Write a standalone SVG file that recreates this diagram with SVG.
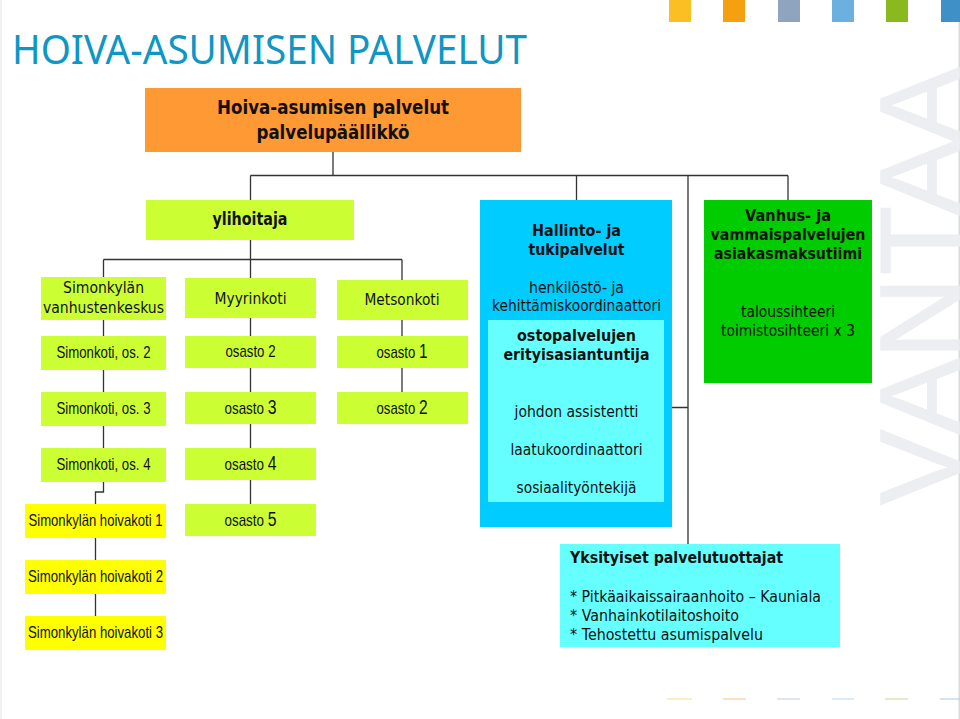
<svg xmlns="http://www.w3.org/2000/svg" width="960" height="719" viewBox="0 0 960 719">
<style>
.n{font-family:"Liberation Sans",Arial,sans-serif;font-size:17px;fill:#111;text-anchor:middle}
.o{font-family:"Liberation Sans",Arial,sans-serif;font-size:17px;fill:#111;text-anchor:middle}
.o tspan{font-size:20px}
.t{font-family:"DejaVu Sans",Verdana,sans-serif;font-size:15px;fill:#111;text-anchor:middle}
.b{font-family:"DejaVu Sans",Verdana,sans-serif;font-size:15px;font-weight:bold;fill:#111;text-anchor:middle}
.s{font-family:"DejaVu Sans",Verdana,sans-serif;font-size:16px;fill:#111}
.l{fill:#ccff33}.y{fill:#ffff00}
.c{fill:none;stroke:#333;stroke-width:1.3}
</style>
<rect width="960" height="719" fill="#fff"/>
<g id="background">
<rect x="0" y="0" width="2" height="719" fill="#f1f1f1"/>
<rect x="958.5" y="0" width="1.5" height="719" fill="#d8dade"/>
<rect x="669" y="0" width="22" height="22" fill="#fbbf24"/>
<rect x="723" y="0" width="22" height="22" fill="#f5a00f"/>
<rect x="778" y="0" width="22" height="22" fill="#8fa5bf"/>
<rect x="832" y="0" width="22" height="22" fill="#6cb0e0"/>
<rect x="886" y="0" width="22" height="22" fill="#8ab91e"/>
<rect x="941" y="0" width="19" height="22" fill="#4090c8"/>
<rect x="667" y="698.5" width="25" height="1" fill="#fbdc8a"/>
<rect x="723" y="698.5" width="23" height="1" fill="#f5c880"/>
<rect x="777" y="698.5" width="23" height="1" fill="#c3cedb"/>
<rect x="832" y="698.5" width="22" height="1" fill="#bcd8ec"/>
<rect x="885" y="698.5" width="23" height="1" fill="#c8d89a"/>
<rect x="940" y="698.5" width="20" height="1" fill="#a8c8e2"/>
<text transform="translate(959 505) rotate(-90)" x="0 71 146 230 290 362" y="0" font-family="Liberation Sans, Arial, sans-serif" font-size="113" fill="#eceef1" stroke="#eceef1" stroke-width="1.5">VANTAA</text>
<text x="12" y="64" font-family="Noto Sans, Liberation Sans, sans-serif" font-size="40" fill="#0e96c4" textLength="515" lengthAdjust="spacingAndGlyphs">HOIVA-ASUMISEN PALVELUT</text>
</g>
<g id="connectors">
<path class="c" d="M250.5 175.5H788M333 152V175.5M250.5 175.5V200M576.5 175.5V200M688 175.5V544M788 175.5V200M664 407.5H688"/>
<path class="c" d="M250.5 240V504M103.5 259.5H402M103.5 259.5V448M402 259.5V392M103.5 482V492H95.5V616"/>
</g>
<g id="n-paallikko"><rect x="145" y="88" width="376" height="64" fill="#ff9933"/>
<text class="b" x="333" y="114" style="font-size:19px" textLength="232" lengthAdjust="spacingAndGlyphs">Hoiva-asumisen palvelut</text>
<text class="b" x="333" y="139" style="font-size:19px" textLength="153" lengthAdjust="spacingAndGlyphs">palvelupäällikkö</text></g>
<g id="n-ylihoitaja"><rect class="l" x="146" y="200" width="208" height="40"/><text class="b" x="250" y="225" style="font-size:17px" textLength="75" lengthAdjust="spacingAndGlyphs">ylihoitaja</text></g>
<g id="n-vanhustenkeskus"><rect class="l" x="41" y="277" width="125" height="43"/><text class="t" x="103.5" y="293" style="font-size:16px" textLength="81" lengthAdjust="spacingAndGlyphs">Simonkylän</text><text class="t" x="103.5" y="313" style="font-size:16px" textLength="121" lengthAdjust="spacingAndGlyphs">vanhustenkeskus</text></g>
<g id="n-myyrinkoti"><rect class="l" x="185" y="278" width="131" height="40"/><text class="t" x="250.5" y="304" style="font-size:16px" textLength="72" lengthAdjust="spacingAndGlyphs">Myyrinkoti</text></g>
<g id="n-metsonkoti"><rect class="l" x="337" y="280" width="131" height="40"/><text class="t" x="402" y="305" style="font-size:16px" textLength="75" lengthAdjust="spacingAndGlyphs">Metsonkoti</text></g>
<g id="n-simonkoti2"><rect class="l" x="41" y="336" width="125" height="34"/><text class="n" x="103.5" y="358" textLength="94" lengthAdjust="spacingAndGlyphs">Simonkoti, os. 2</text></g>
<g id="n-myy-osasto2"><rect class="l" x="185" y="336" width="131" height="32"/><text class="o" x="250.5" y="357" textLength="50" lengthAdjust="spacingAndGlyphs">osasto 2</text></g>
<g id="n-met-osasto1"><rect class="l" x="337" y="336" width="131" height="32"/><text class="o" x="402" y="358" textLength="51" lengthAdjust="spacingAndGlyphs">osasto <tspan>1</tspan></text></g>
<g id="n-simonkoti3"><rect class="l" x="41" y="392" width="125" height="34"/><text class="n" x="103.5" y="414" textLength="94" lengthAdjust="spacingAndGlyphs">Simonkoti, os. 3</text></g>
<g id="n-myy-osasto3"><rect class="l" x="185" y="392" width="131" height="32"/><text class="o" x="250.5" y="414" textLength="52" lengthAdjust="spacingAndGlyphs">osasto <tspan>3</tspan></text></g>
<g id="n-met-osasto2"><rect class="l" x="337" y="392" width="131" height="32"/><text class="o" x="402" y="414" textLength="51" lengthAdjust="spacingAndGlyphs">osasto <tspan>2</tspan></text></g>
<g id="n-simonkoti4"><rect class="l" x="41" y="448" width="125" height="34"/><text class="n" x="103.5" y="470" textLength="94" lengthAdjust="spacingAndGlyphs">Simonkoti, os. 4</text></g>
<g id="n-myy-osasto4"><rect class="l" x="185" y="448" width="131" height="32"/><text class="o" x="250.5" y="470" textLength="52" lengthAdjust="spacingAndGlyphs">osasto <tspan>4</tspan></text></g>
<g id="n-myy-osasto5"><rect class="l" x="185" y="504" width="131" height="32"/><text class="o" x="250.5" y="526" textLength="52" lengthAdjust="spacingAndGlyphs">osasto <tspan>5</tspan></text></g>
<g id="n-hoivakoti1"><rect class="y" x="25" y="504" width="141" height="34"/><text class="n" x="95.5" y="526" textLength="134" lengthAdjust="spacingAndGlyphs">Simonkylän hoivakoti 1</text></g>
<g id="n-hoivakoti2"><rect class="y" x="25" y="560" width="141" height="34"/><text class="n" x="95.5" y="582" textLength="135" lengthAdjust="spacingAndGlyphs">Simonkylän hoivakoti 2</text></g>
<g id="n-hoivakoti3"><rect class="y" x="25" y="616" width="141" height="34"/><text class="n" x="95.5" y="638" textLength="135" lengthAdjust="spacingAndGlyphs">Simonkylän hoivakoti 3</text></g>
<g id="n-hallinto"><rect x="480" y="200" width="192" height="327" fill="#00ccff"/>
<rect x="488" y="320" width="176" height="182" fill="#66ffff"/>
<text class="b" x="576.5" y="236" textLength="89" lengthAdjust="spacingAndGlyphs">Hallinto- ja</text>
<text class="b" x="576.5" y="255" textLength="96" lengthAdjust="spacingAndGlyphs">tukipalvelut</text>
<text class="t" x="576.5" y="293" textLength="95" lengthAdjust="spacingAndGlyphs">henkilöstö- ja</text>
<text class="t" x="576.5" y="311" textLength="169" lengthAdjust="spacingAndGlyphs">kehittämiskoordinaattori</text>
<text class="b" x="576.5" y="341" textLength="119" lengthAdjust="spacingAndGlyphs">ostopalvelujen</text>
<text class="b" x="576.5" y="360" textLength="146" lengthAdjust="spacingAndGlyphs">erityisasiantuntija</text>
<text class="t" x="576.5" y="417" textLength="124" lengthAdjust="spacingAndGlyphs">johdon assistentti</text>
<text class="t" x="576.5" y="455" textLength="132" lengthAdjust="spacingAndGlyphs">laatukoordinaattori</text>
<text class="t" x="576.5" y="493" textLength="120" lengthAdjust="spacingAndGlyphs">sosiaalityöntekijä</text></g>
<g id="n-vanhus"><rect x="704" y="200" width="168" height="183" fill="#00cc00"/>
<text class="b" x="788" y="221" textLength="86" lengthAdjust="spacingAndGlyphs">Vanhus- ja</text>
<text class="b" x="788" y="240" textLength="155" lengthAdjust="spacingAndGlyphs">vammaispalvelujen</text>
<text class="b" x="788" y="259" textLength="148" lengthAdjust="spacingAndGlyphs">asiakasmaksutiimi</text>
<text class="t" x="788" y="317" textLength="94" lengthAdjust="spacingAndGlyphs">taloussihteeri</text>
<text class="t" x="788" y="336" textLength="134" lengthAdjust="spacingAndGlyphs">toimistosihteeri x 3</text></g>
<g id="n-yksityiset"><rect x="560" y="544" width="280" height="103" fill="#66ffff"/>
<text class="s" x="570" y="563" font-weight="bold" textLength="213" lengthAdjust="spacingAndGlyphs">Yksityiset palvelutuottajat</text>
<text class="s" x="570" y="602" textLength="251" lengthAdjust="spacingAndGlyphs">* Pitkäaikaissairaanhoito – Kauniala</text>
<text class="s" x="570" y="621" textLength="169" lengthAdjust="spacingAndGlyphs">* Vanhainkotilaitoshoito</text>
<text class="s" x="570" y="640" textLength="193" lengthAdjust="spacingAndGlyphs">* Tehostettu asumispalvelu</text></g>
</svg>
